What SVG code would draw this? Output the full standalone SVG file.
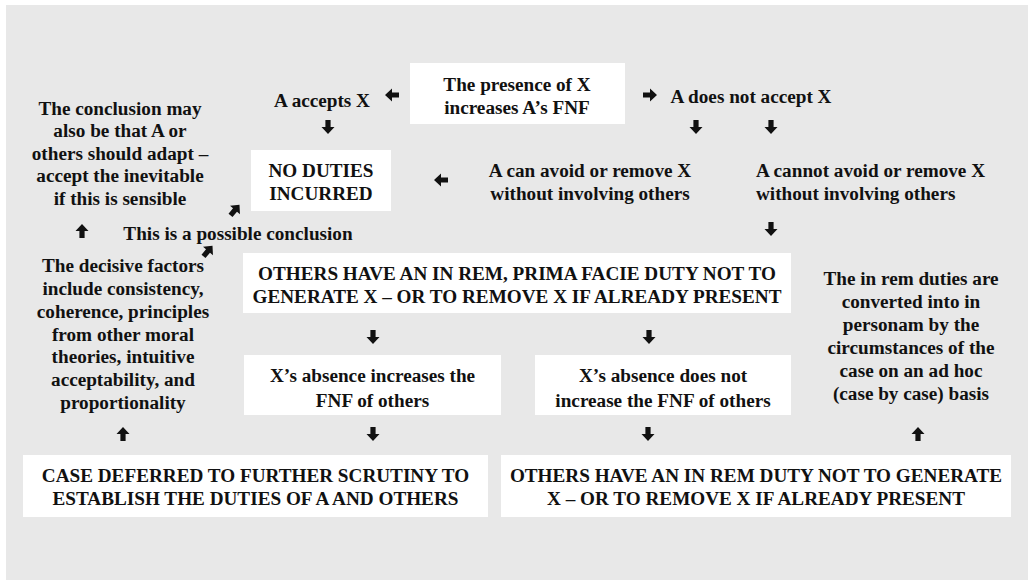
<svg xmlns="http://www.w3.org/2000/svg" xmlns:xlink="http://www.w3.org/1999/xlink" width="1028" height="580" viewBox="0 0 1028 580" font-family="Liberation Serif, serif">
<style>
  .bg { fill: #ffffff; }
  .panel { fill: #e8e8e8; }
  .box { fill: #ffffff; }
  text { font-family: 'Liberation Serif', serif; font-weight: bold; font-size: 19.2px; fill: #111111; }
  .c { text-anchor: middle; }
  .s { text-anchor: start; }
  .arr { fill: #111111; }
</style>
<defs>
  <path id="arr" d="M-7,-2.6 H0 V-6.5 L7,0 L0,6.5 V2.6 H-7 Z"/>
</defs>
<rect class="bg" x="0" y="0" width="1028" height="580"/>
<rect class="panel" x="6" y="5" width="1022" height="575"/>

<g id="presence">
  <rect class="box" x="410" y="63" width="215" height="61"/>
  <text class="c" x="517" y="91">The presence of X</text>
  <text class="c" x="517" y="114">increases A’s FNF</text>
</g>
<g id="accepts">
  <text class="c" x="322" y="107">A accepts X</text>
</g>
<g id="not-accept">
  <text class="c" x="751" y="103">A does not accept X</text>
</g>
<g id="no-duties">
  <rect class="box" x="251" y="150" width="140" height="61"/>
  <text class="c" x="321" y="177">NO DUTIES</text>
  <text class="c" x="321" y="200">INCURRED</text>
</g>
<g id="can-avoid">
  <text class="c" x="590" y="177">A can avoid or remove X</text>
  <text class="c" x="590" y="200">without involving others</text>
</g>
<g id="cannot-avoid">
  <text class="s" x="756" y="177">A cannot avoid or remove X</text>
  <text class="s" x="756" y="200">without involving others</text>
</g>
<g id="adapt">
  <text class="c" x="120" y="115">The conclusion may</text>
  <text class="c" x="120" y="137">also be that A or</text>
  <text class="c" x="120" y="160">others should adapt –</text>
  <text class="c" x="120" y="182">accept the inevitable</text>
  <text class="c" x="120" y="205">if this is sensible</text>
</g>
<g id="possible">
  <text class="c" x="238" y="240">This is a possible conclusion</text>
</g>
<g id="prima-facie">
  <rect class="box" x="243" y="253" width="548" height="60"/>
  <text class="c" x="517" y="280">OTHERS HAVE AN IN REM, PRIMA FACIE DUTY NOT TO</text>
  <text class="c" x="517" y="303">GENERATE  X – OR TO REMOVE X IF ALREADY PRESENT</text>
</g>
<g id="factors">
  <text class="c" x="123" y="272">The decisive factors</text>
  <text class="c" x="123" y="295">include consistency,</text>
  <text class="c" x="123" y="318">coherence, principles</text>
  <text class="c" x="123" y="341">from other moral</text>
  <text class="c" x="123" y="363">theories, intuitive</text>
  <text class="c" x="123" y="386">acceptability, and</text>
  <text class="c" x="123" y="409">proportionality</text>
</g>
<g id="absence-increases">
  <rect class="box" x="244" y="355" width="257" height="60"/>
  <text class="c" x="372.5" y="382">X’s absence increases the</text>
  <text class="c" x="372.5" y="407">FNF of others</text>
</g>
<g id="absence-not">
  <rect class="box" x="535" y="355" width="256" height="60"/>
  <text class="c" x="663" y="382">X’s absence does not</text>
  <text class="c" x="663" y="407">increase the FNF of others</text>
</g>
<g id="in-rem-converted">
  <text class="c" x="911" y="285">The in rem duties are</text>
  <text class="c" x="911" y="308">converted into in</text>
  <text class="c" x="911" y="331">personam by the</text>
  <text class="c" x="911" y="354">circumstances of the</text>
  <text class="c" x="911" y="377">case on an ad hoc</text>
  <text class="c" x="911" y="400">(case by case) basis</text>
</g>
<g id="deferred">
  <rect class="box" x="23" y="455" width="465" height="62"/>
  <text class="c" x="255.5" y="482">CASE DEFERRED TO FURTHER SCRUTINY TO</text>
  <text class="c" x="255.5" y="505">ESTABLISH THE DUTIES OF A AND OTHERS</text>
</g>
<g id="in-rem-duty">
  <rect class="box" x="501" y="455" width="510" height="62"/>
  <text class="c" x="756" y="482">OTHERS HAVE AN IN REM DUTY NOT TO GENERATE</text>
  <text class="c" x="756" y="505">X – OR TO REMOVE X IF ALREADY PRESENT</text>
</g>

<g id="connectors" class="arr">
  <use xlink:href="#arr" transform="translate(392,95) rotate(180)"/>
  <use xlink:href="#arr" transform="translate(650,95)"/>
  <use xlink:href="#arr" transform="translate(328,127) rotate(90)"/>
  <use xlink:href="#arr" transform="translate(696,127) rotate(90)"/>
  <use xlink:href="#arr" transform="translate(771,127) rotate(90)"/>
  <use xlink:href="#arr" transform="translate(441,180) rotate(180)"/>
  <use xlink:href="#arr" transform="translate(771,229) rotate(90)"/>
  <use xlink:href="#arr" transform="translate(82,231) rotate(-90)"/>
  <use xlink:href="#arr" transform="translate(235,210) rotate(-50)"/>
  <use xlink:href="#arr" transform="translate(208,251) rotate(-50)"/>
  <use xlink:href="#arr" transform="translate(373,337) rotate(90)"/>
  <use xlink:href="#arr" transform="translate(649,337) rotate(90)"/>
  <use xlink:href="#arr" transform="translate(123,434) rotate(-90)"/>
  <use xlink:href="#arr" transform="translate(373,434) rotate(90)"/>
  <use xlink:href="#arr" transform="translate(648,434) rotate(90)"/>
  <use xlink:href="#arr" transform="translate(918,434) rotate(-90)"/>
</g>
</svg>
